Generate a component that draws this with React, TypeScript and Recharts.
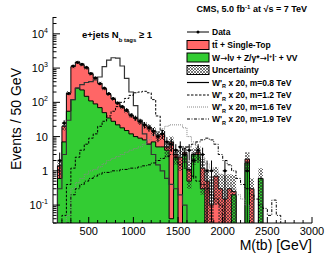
import { Area, ComposedChart, ErrorBar, Line, Scatter, XAxis, YAxis } from "recharts";

// bin low edges, 50 GeV wide
const BIN_LO = [
  100, 150, 200, 250, 300, 350, 400, 450, 500, 550, 600, 650, 700, 750, 800, 850, 900, 950, 1000, 1050,
  1100, 1150, 1200, 1250, 1300, 1350, 1400, 1450, 1500, 1550, 1600, 1650, 1700, 1750, 1800, 1850, 1900, 1950, 2000, 2050,
  2100, 2150, 2200, 2250, 2300, 2350, 2400, 2450, 2500, 2550, 2600, 2650, 2700, 2750, 2800, 2850, 2900, 2950,
];

// top of the stack (tt + single top on top of EWK)
const STACK_TOP = [
  0, 1.4, 20, 185, 1100, 1500, 1250, 1000, 680, 500, 360, 250, 170, 125, 95, 72, 55, 42, 34, 27,
  22, 19, 15, 11, 12, 5, 7, 3, 2.5, 3.5, 1.1, 3, 3.5, 1.2, 0.5, 0.1, 0.7, 0.3, 0.15, 0.3,
  0.25, 0, 0, 2.2, 0.3, 0, 0.6, 0, 0, 0, 0, 0, 0, 0, 0, 0, 0, 0,
];
// W->lv + Z/gamma* + VV
const EWK = [
  0, 0.6, 7, 55, 120, 260, 230, 150, 110, 90, 70, 50, 35, 28, 22, 18, 15, 12, 10, 9,
  8, 6, 7, 5, 5, 4, 0.04, 2.5, 0, 3, 0.5, 3, 3, 0.3, 0, 0, 0, 0, 0, 0,
  0.2, 0, 0, 1.7, 0, 0, 0.6, 0, 0, 0, 0, 0, 0, 0, 0, 0, 0, 0,
];
const UNC = [
  0, 0.7, 5, 25, 110, 150, 125, 100, 70, 50, 36, 26, 18, 14, 11, 9, 7, 6, 5, 5,
  4.5, 4, 4, 3.5, 4, 2.5, 3, 1.5, 1.5, 1.8, 0.8, 1.5, 1.8, 1, 0.6, 0.6, 0.6, 0.5, 0.6, 0.5,
  0.5, 0, 0, 1.3, 0.3, 0, 0.6, 0, 0, 0, 0, 0, 0, 0, 0, 0, 0, 0,
];
const DATA = [
  0, 2, 25, 180, 1150, 1450, 1300, 1050, 700, 520, 350, 260, 180, 130, 95, 75, 60, 42, 35, 28,
  22, 18, 14, 10, 12, 7, 6, 4, 5, 3, 4, 2, 4, 3, 1, 1, 0, 0, 1, 0,
  0, 0, 0, 1, 0, 0, 0, 0, 0, 0, 0, 0, 0, 0, 0, 0, 0, 0,
];
const SIG08 = [
  0, 0.3, 3, 30, 120, 260, 330, 380, 400, 450, 550, 1100, 1700, 2000, 1950, 1150, 500, 200, 80, 30,
  12, 6, 3, 1.5, 1, 0.6, 0.4, 0.3, 0.2, 0.1, 0, 0, 0, 0, 0, 0, 0, 0, 0, 0,
  0, 0, 0, 0, 0, 0, 0, 0, 0, 0, 0, 0, 0, 0, 0, 0, 0, 0,
];
const SIG12 = [
  0, 0, 0.05, 0.4, 1.2, 2.5, 4, 6, 9, 12, 20, 28, 40, 55, 75, 100, 130, 160, 190, 200,
  210, 190, 120, 40, 15, 7, 4, 2.5, 1.5, 1.2, 1, 0.7, 0.5, 0.4, 0.3, 0.2, 0.15, 0.1, 0, 0,
  0, 0, 0, 0, 0, 0, 0, 0, 0, 0, 0, 0, 0, 0, 0, 0, 0, 0,
];
const SIG16 = [
  0, 0, 0, 0.05, 0.3, 0.45, 0.6, 0.8, 1, 1.1, 1.3, 1.6, 2, 2.3, 2.6, 3, 3.5, 4, 4.5, 5,
  6, 8, 11, 14, 17, 20, 22, 22, 22, 18, 10, 7, 4, 2.5, 1.6, 1.2, 1, 0.8, 0.6, 0.4,
  0.3, 0.2, 0.15, 0.1, 0, 0, 0, 0, 0, 0, 0, 0, 0, 0, 0, 0, 0, 0,
];
const SIG19 = [
  0, 0, 0, 0.03, 0.2, 0.3, 0.4, 0.5, 0.6, 0.7, 0.8, 0.9, 0.9, 1, 1, 1.1, 1.1, 1.2, 1.2, 1.3,
  1.4, 1.5, 1.7, 2, 2.3, 2.6, 3, 3.5, 4, 4.5, 5, 6, 7, 8, 9, 8, 6, 3, 2, 1.5,
  1, 0.6, 0.4, 0.3, 0.2, 0.15, 0.1, 0.08, 0.05, 0.14, 0.05, 0, 0, 0, 0, 0, 0, 0,
];

const X_MAJOR = [500, 1000, 1500, 2000, 2500, 3000];
const X_MINOR = [200, 300, 400, 600, 700, 800, 900, 1100, 1200, 1300, 1400, 1600, 1700, 1800, 1900,
  2100, 2200, 2300, 2400, 2600, 2700, 2800, 2900];
const Y_MAJOR = [0.1, 1, 10, 100, 1000, 10000];
const Y_EXP = ["-1", "", "", "2", "3", "4"];
const Y_MINOR = [0.03, 0.04, 0.05, 0.06, 0.07, 0.08, 0.09,
  ...[0.1, 1, 10, 100, 1000].flatMap((d) => [2, 3, 4, 5, 6, 7, 8, 9].map((k) => +(k * d).toPrecision(3))),
  20000, 30000];

const BIN_HALF = 25;
const FLOOR = 1e-4;
const pos = (v: number) => (v > 0 ? v : FLOOR);

const rows = BIN_LO.map((m, i) => ({
  m,
  top: pos(STACK_TOP[i]),
  ewk: pos(EWK[i]),
  band: [pos(STACK_TOP[i] - UNC[i]), pos(STACK_TOP[i] + UNC[i])],
  s08: pos(SIG08[i]),
  s12: pos(SIG12[i]),
  s16: pos(SIG16[i]),
  s19: pos(SIG19[i]),
}));
rows.push({ ...rows[rows.length - 1], m: 3000 });

const points = BIN_LO.map((m, i) => ({ m: m + BIN_HALF, n: DATA[i] }))
  .filter((p) => p.n > 0)
  .map((p) => {
    const s = Math.sqrt(p.n);
    return { ...p, ey: [p.n - Math.max(p.n - s, 0.031), s], ex: BIN_HALF };
  });

const RED = "#ff6666";
const GREEN = "#33cc33";
const FONT = "'Liberation Sans', Arial, Helvetica, sans-serif";
const SYM = "'DejaVu Sans', sans-serif";

const BottomTick = ({ x, y, payload }: any) => {
  const major = X_MAJOR.includes(payload.value);
  return (
    <g>
      <line x1={x} x2={x} y1={y} y2={y - (major ? 6 : 3)} stroke="#000" />
      {major && (
        <text x={x} y={y + 12} textAnchor="middle" fontSize={11} fontFamily={FONT} fill="#000">
          {payload.value}
        </text>
      )}
    </g>
  );
};
const TopTick = ({ x, y, payload }: any) => {
  const major = X_MAJOR.includes(payload.value);
  return <line x1={x} x2={x} y1={y} y2={y + (major ? 6 : 3)} stroke="#000" />;
};
const LeftTick = ({ x, y, payload }: any) => {
  const idx = Y_MAJOR.indexOf(payload.value);
  const major = idx >= 0;
  const base = payload.value === 1 ? "1" : "10";
  return (
    <g>
      <line x1={x} x2={x + (major ? 7 : 3.5)} y1={y} y2={y} stroke="#000" />
      {major && (
        <text x={x - 5} y={y + 4} textAnchor="end" fontSize={11} fontFamily={FONT} fill="#000">
          {base}
          {Y_EXP[idx] && (
            <tspan fontSize={7} dy={-5}>
              {Y_EXP[idx]}
            </tspan>
          )}
        </text>
      )}
    </g>
  );
};
const RightTick = ({ x, y, payload }: any) => {
  const major = Y_MAJOR.includes(payload.value);
  return <line x1={x} x2={x - (major ? 7 : 3.5)} y1={y} y2={y} stroke="#000" />;
};

const Dot = ({ cx, cy }: any) => <circle cx={cx} cy={cy} r={1.5} fill="#000" />;

const WPrime = ({ y, mass }: { y: number; mass: string }) => (
  <text x={212} y={y} fontSize={8.5} fontWeight="bold" fontFamily={FONT} fill="#000">
    W'
    <tspan fontSize={5.5} dy={2.5}>R</tspan>
    <tspan dy={-2.5}>{` x 20, m=${mass} TeV`}</tspan>
  </text>
);

const Overlay = () => (
  <svg width={332} height={257} style={{ position: "absolute", left: 0, top: 0, pointerEvents: "none" }}>
    <defs>
      <pattern id="hatch" width={3} height={3} patternUnits="userSpaceOnUse">
        <path d="M0,0 L3,3 M3,0 L0,3" stroke="#222" strokeWidth={0.6} />
      </pattern>
    </defs>
    <text x={307} y={12} textAnchor="end" fontSize={9} fontWeight="bold" fontFamily={FONT} fill="#000">
      CMS, 5.0 fb<tspan fontSize={6} dy={-3.5}>-1</tspan>
      <tspan dy={3.5}> at √s = 7 TeV</tspan>
    </text>
    <text x={82} y={38} fontSize={9.5} fontWeight="bold" fontFamily={FONT} fill="#000">
      e+jets N<tspan fontSize={6} dy={3.5}>b tags</tspan>
      <tspan dy={-3.5}> ≥ 1</tspan>
    </text>

    <line x1={187} x2={209} y1={32} y2={32} stroke="#000" />
    <circle cx={198} cy={32} r={1.5} fill="#000" />
    <text x={212} y={35} fontSize={8.5} fontWeight="bold" fontFamily={FONT}>Data</text>

    <rect x={187} y={40.5} width={22} height={9} fill={RED} stroke="#000" />
    <text x={212} y={48} fontSize={8.5} fontWeight="bold" fontFamily={FONT}>tt̄ + Single-Top</text>

    <rect x={187} y={53} width={22} height={9} fill={GREEN} stroke="#000" />
    <text x={212} y={60.5} fontSize={8.5} fontWeight="bold" fontFamily={FONT}>
      W<tspan fontFamily={SYM} fontWeight="normal">→</tspan>lν + Z/γ*
      <tspan fontFamily={SYM} fontWeight="normal">→</tspan>l
      <tspan fontSize={5.5} dy={-3}>+</tspan>
      <tspan dy={3}>l</tspan>
      <tspan fontSize={5.5} dy={-3}>-</tspan>
      <tspan dy={3}> + VV</tspan>
    </text>

    <rect x={187} y={65.5} width={22} height={9} fill="url(#hatch)" stroke="#000" />
    <text x={212} y={73} fontSize={8.5} fontWeight="bold" fontFamily={FONT}>Uncertainty</text>

    <line x1={187} x2={209} y1={82.5} y2={82.5} stroke="#000" strokeWidth={1.2} />
    <WPrime y={85.5} mass="0.8" />
    <line x1={187} x2={209} y1={95} y2={95} stroke="#000" strokeDasharray="2.5 1.5" />
    <WPrime y={98} mass="1.2" />
    <line x1={187} x2={209} y1={107} y2={107} stroke="#888" strokeDasharray="1 1" />
    <WPrime y={110} mass="1.6" />
    <line x1={187} x2={209} y1={119} y2={119} stroke="#000" strokeDasharray="3 1.5 1 1.5" />
    <WPrime y={122} mass="1.9" />

    <text
      transform="translate(21,119) rotate(-90)"
      textAnchor="middle"
      fontSize={14}
      fontFamily={FONT}
      fill="#000"
    >
      Events / 50 GeV
    </text>
    <text x={312} y={250} textAnchor="end" fontSize={14} fontFamily={FONT} fill="#000">
      M(tb) [GeV]
    </text>
  </svg>
);

export default function App() {
  const xDomain = [100, 3000];
  const yDomain = [0.03, 31000];
  const xTicks = [...X_MINOR, ...X_MAJOR];
  const yTicks = [...Y_MINOR, ...Y_MAJOR];
  return (
    <div style={{ position: "absolute", left: 0, top: 0, width: 332, height: 257, background: "#fff" }}>
      <ComposedChart width={332} height={257} data={rows} margin={{ top: 17, right: 20, bottom: 0, left: 0 }}>
        <XAxis
          dataKey="m"
          type="number"
          domain={xDomain}
          allowDataOverflow
          ticks={xTicks}
          interval={0}
          height={34}
          tickSize={0}
          tickMargin={0}
          tickLine={false}
          axisLine={{ stroke: "#000" }}
          tick={<BottomTick />}
        />
        <XAxis
          xAxisId="top"
          orientation="top"
          dataKey="m"
          type="number"
          domain={xDomain}
          allowDataOverflow
          ticks={xTicks}
          interval={0}
          height={0}
          tickSize={0}
          tickMargin={0}
          tickLine={false}
          axisLine={{ stroke: "#000" }}
          tick={<TopTick />}
        />
        <YAxis
          type="number"
          scale="log"
          domain={yDomain}
          allowDataOverflow
          ticks={yTicks}
          interval={0}
          width={53}
          tickSize={0}
          tickMargin={0}
          tickLine={false}
          axisLine={{ stroke: "#000" }}
          tick={<LeftTick />}
        />
        <YAxis
          yAxisId="right"
          orientation="right"
          type="number"
          scale="log"
          domain={yDomain}
          allowDataOverflow
          ticks={yTicks}
          interval={0}
          width={0}
          tickSize={0}
          tickMargin={0}
          tickLine={false}
          axisLine={{ stroke: "#000" }}
          tick={<RightTick />}
        />
        <Area dataKey="top" type="stepAfter" fill={RED} fillOpacity={1} stroke="#000" strokeWidth={1} isAnimationActive={false} />
        <Area dataKey="ewk" type="stepAfter" fill={GREEN} fillOpacity={1} stroke="#000" strokeWidth={1} isAnimationActive={false} />
        <Area dataKey="band" type="stepAfter" fill="url(#hatch)" fillOpacity={1} stroke="none" isAnimationActive={false} />
        <Line dataKey="s08" type="stepAfter" stroke="#333" strokeWidth={1.2} dot={false} isAnimationActive={false} />
        <Line dataKey="s12" type="stepAfter" stroke="#000" strokeDasharray="2.5 1.5" strokeWidth={1} dot={false} isAnimationActive={false} />
        <Line dataKey="s16" type="stepAfter" stroke="#888" strokeDasharray="1 1" strokeWidth={1} dot={false} isAnimationActive={false} />
        <Line dataKey="s19" type="stepAfter" stroke="#000" strokeDasharray="3 1.5 1 1.5" strokeWidth={1} dot={false} isAnimationActive={false} />
        <Scatter data={points} dataKey="n" shape={<Dot />} isAnimationActive={false}>
          <ErrorBar dataKey="ey" direction="y" width={0} stroke="#000" strokeWidth={1} />
          <ErrorBar dataKey="ex" direction="x" width={0} stroke="#000" strokeWidth={1} />
        </Scatter>
      </ComposedChart>
      <Overlay />
    </div>
  );
}
